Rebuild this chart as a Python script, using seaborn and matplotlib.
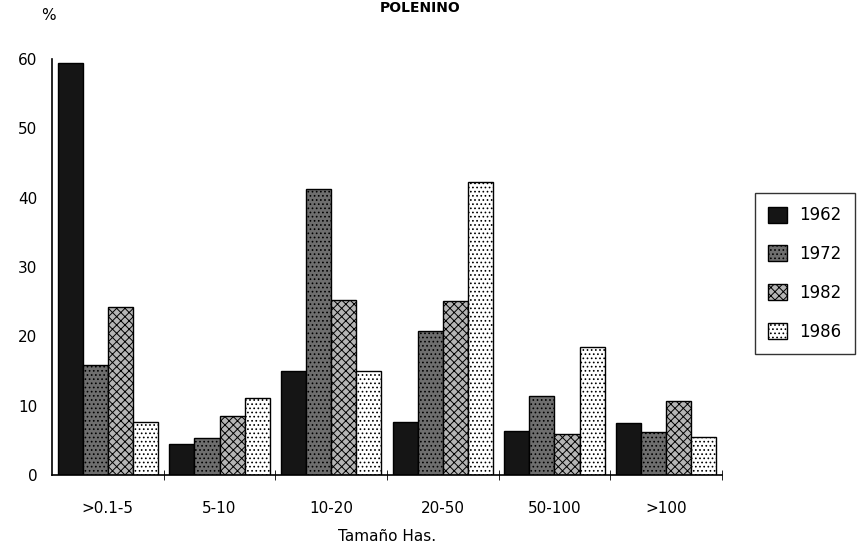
import pandas as pd
import matplotlib.pyplot as plt
import seaborn as sns
from matplotlib.patches import Patch

# values (%)
sizes = ['>0.1-5', '5-10', '10-20', '20-50', '50-100', '>100']
years = ['1962', '1972', '1982', '1986']
pct_1962 = [59.5, 4.5, 15.0, 7.6, 6.3, 7.5]
pct_1972 = [15.8, 5.3, 41.3, 20.8, 11.4, 6.2]
pct_1982 = [24.3, 8.5, 25.2, 25.1, 5.9, 10.7]
pct_1986 = [7.6, 11.1, 15.0, 42.3, 18.4, 5.5]

df = pd.DataFrame({
    'Tamaño': sizes * 4,
    'Año': [y for y in years for _ in sizes],
    'pct': pct_1962 + pct_1972 + pct_1982 + pct_1986,
})

sns.set_style('white')
plt.rcParams['font.family'] = ['DejaVu Sans']
plt.rcParams['hatch.linewidth'] = 0.7
plt.rcParams['text.color'] = 'black'
plt.rcParams['axes.labelcolor'] = 'black'
plt.rcParams['xtick.color'] = 'black'
plt.rcParams['ytick.color'] = 'black'

fig = plt.figure(figsize=(8.6, 5.56), dpi=100)
ax = fig.add_axes([0.0605, 0.1457, 0.779, 0.748])

faces = ['#151515', '#6e6e6e', '#b5b5b5', '#ffffff']
hatches = ['', '....', 'xxxx', '....']

sns.barplot(data=df, x='Tamaño', y='pct', hue='Año', palette=faces,
            width=0.9, edgecolor='black', linewidth=1, legend=False, ax=ax)

for cont, h in zip(ax.containers, hatches):
    for bar in cont:
        bar.set_hatch(h)

ax.set_xlim(-0.5, 5.5)
ax.set_ylim(0, 60)
ax.set_yticks(range(0, 61, 10))
ax.tick_params(axis='y', length=5, direction='inout', labelsize=11, pad=8)
ax.set_xticks(range(6))
ax.set_xticklabels(sizes)
ax.set_xticks([i + 0.5 for i in range(6)], minor=True)
ax.tick_params(axis='x', which='major', length=0, labelsize=11, pad=19)
ax.tick_params(axis='x', which='minor', length=7, direction='inout', bottom=True)
ax.set_xlabel('Tamaño Has.', fontsize=11, labelpad=9)
ax.set_ylabel('')
for s in ['top', 'right']:
    ax.spines[s].set_visible(False)
for s in ['left', 'bottom']:
    ax.spines[s].set_color('black')
    ax.spines[s].set_linewidth(1.2)

fig.text(0.056, 0.972, '%', fontsize=11, ha='center', va='center')
fig.text(0.489, 0.985, 'POLENINO', fontsize=10, fontweight='bold', ha='center', va='center')

handles = [Patch(facecolor=f, edgecolor='black', hatch=h) for f, h in zip(faces, hatches)]
leg = fig.legend(handles, years, loc='upper left', bbox_to_anchor=(0.878, 0.653),
                 fontsize=12, frameon=True, fancybox=False, edgecolor='black',
                 handlelength=1.1, handleheight=1.1, labelspacing=1.25, borderpad=0.8,
                 handletextpad=0.75, borderaxespad=0)
leg.get_frame().set_linewidth(1)

fig.savefig('out.png', dpi=100)
